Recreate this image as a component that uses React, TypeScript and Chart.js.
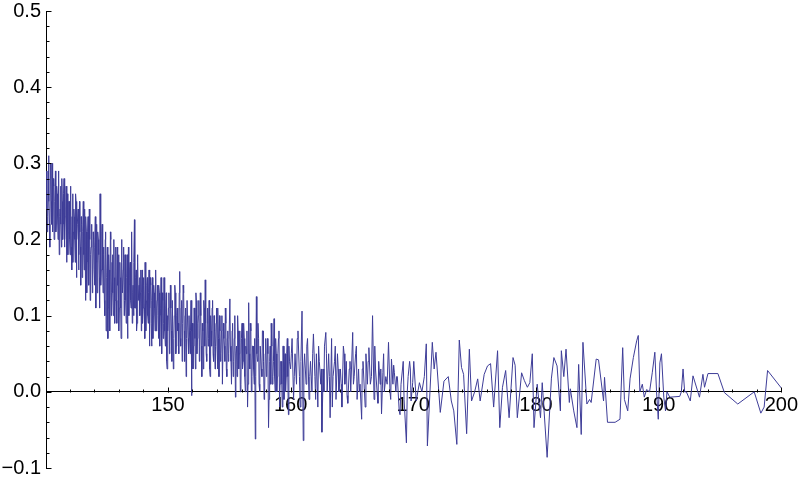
import React, { useEffect, useRef } from "react";
import { Chart, registerables } from "chart.js";
Chart.register(...registerables);

const xMin = 140.06;
const xMax = 200;
const yMin = -0.1;
const yMax = 0.5;

const xMajorTicks = [150, 160, 170, 180, 190, 200];
const xMinorTicks = [142, 144, 146, 148, 152, 154, 156, 158, 162, 164, 166, 168, 172, 174, 176, 178, 182, 184, 186, 188, 192, 194, 196, 198];
const yMajorTicks = [-0.1, 0, 0.1, 0.2, 0.3, 0.4, 0.5];
const yMinorTicks = [-0.08, -0.06, -0.04, -0.02, 0.02, 0.04, 0.06, 0.08, 0.12, 0.14, 0.16, 0.18, 0.22, 0.24, 0.26, 0.28, 0.32, 0.34, 0.36, 0.38, 0.42, 0.44, 0.46, 0.48];

const segAX = [140.06, 140.13, 140.20, 140.27, 140.34, 140.41, 140.48, 140.55, 140.62, 140.69, 140.76, 140.83, 140.90, 140.97, 141.04, 141.11, 141.18, 141.25, 141.32, 141.39, 141.46, 141.53, 141.60, 141.67, 141.74, 141.81, 141.88, 141.95, 142.02, 142.09, 142.16, 142.23, 142.30, 142.37, 142.44, 142.51, 142.58, 142.65, 142.72, 142.79, 142.86, 142.93, 143.00, 143.07, 143.14, 143.21, 143.28, 143.35, 143.42, 143.49, 143.56, 143.63, 143.70, 143.77, 143.84, 143.91, 143.98, 144.05, 144.12, 144.19, 144.26, 144.33, 144.40, 144.47, 144.54, 144.61, 144.68, 144.75, 144.82, 144.89, 144.96];
const segAY = [0.24, 0.29, 0.23, 0.31, 0.22, 0.28, 0.25, 0.30, 0.21, 0.27, 0.24, 0.29, 0.22, 0.26, 0.20, 0.28, 0.23, 0.27, 0.19, 0.25, 0.22, 0.28, 0.20, 0.24, 0.17, 0.26, 0.21, 0.25, 0.18, 0.24, 0.16, 0.26, 0.21, 0.23, 0.17, 0.25, 0.20, 0.22, 0.16, 0.25, 0.19, 0.23, 0.15, 0.21, 0.18, 0.24, 0.12, 0.21, 0.17, 0.23, 0.14, 0.20, 0.18, 0.22, 0.13, 0.21, 0.16, 0.19, 0.11, 0.22, 0.17, 0.20, 0.15, 0.26, 0.14, 0.21, 0.16, 0.19, 0.12, 0.20, 0.08];

const segA2X = [140.09, 140.16, 140.23, 140.30, 140.37, 140.44, 140.51, 140.58, 140.65, 140.72, 140.79, 140.86, 140.93, 141.00, 141.07, 141.14, 141.21, 141.28, 141.35, 141.42, 141.49, 141.56, 141.63, 141.70, 141.77, 141.84, 141.91, 141.98, 142.05, 142.12, 142.19, 142.26, 142.33, 142.40, 142.47, 142.54, 142.61, 142.68, 142.75, 142.82, 142.89, 142.96, 143.03, 143.10, 143.17, 143.24, 143.31, 143.38, 143.45, 143.52, 143.59, 143.66, 143.73, 143.80, 143.87, 143.94, 144.01, 144.08, 144.15, 144.22, 144.29, 144.36, 144.43, 144.50, 144.57, 144.64, 144.71, 144.78, 144.85, 144.92, 144.99];
const segA2Y = [0.27, 0.21, 0.29, 0.25, 0.19, 0.30, 0.22, 0.26, 0.28, 0.20, 0.25, 0.21, 0.27, 0.23, 0.29, 0.18, 0.24, 0.22, 0.28, 0.20, 0.26, 0.19, 0.23, 0.27, 0.21, 0.18, 0.25, 0.20, 0.27, 0.19, 0.23, 0.17, 0.24, 0.20, 0.26, 0.15, 0.22, 0.24, 0.18, 0.21, 0.14, 0.22, 0.19, 0.25, 0.16, 0.20, 0.23, 0.13, 0.21, 0.18, 0.24, 0.12, 0.19, 0.22, 0.16, 0.20, 0.14, 0.23, 0.17, 0.13, 0.21, 0.18, 0.11, 0.20, 0.16, 0.22, 0.13, 0.18, 0.10, 0.21, 0.15];

const segBX = [145.03, 145.10, 145.17, 145.24, 145.31, 145.38, 145.45, 145.52, 145.59, 145.66, 145.73, 145.80, 145.87, 145.94, 146.01, 146.08, 146.15, 146.22, 146.29, 146.36, 146.43, 146.50, 146.57, 146.64, 146.71, 146.78, 146.85, 146.92, 146.99, 147.06, 147.13, 147.20, 147.27, 147.34, 147.41, 147.48, 147.55, 147.62, 147.69, 147.76, 147.83, 147.90, 147.97, 148.04, 148.11, 148.18, 148.25, 148.32, 148.39, 148.46, 148.53, 148.60, 148.67, 148.74, 148.81, 148.88, 148.95, 149.02, 149.09, 149.16, 149.23, 149.30, 149.37, 149.44, 149.51, 149.58, 149.65, 149.72, 149.79, 149.86, 149.93];
const segBY = [0.15, 0.07, 0.18, 0.12, 0.21, 0.10, 0.17, 0.13, 0.20, 0.09, 0.16, 0.12, 0.19, 0.14, 0.08, 0.17, 0.11, 0.20, 0.13, 0.16, 0.10, 0.18, 0.12, 0.15, 0.07, 0.19, 0.14, 0.17, 0.11, 0.21, 0.13, 0.10, 0.226, 0.11, 0.16, 0.09, 0.17, 0.12, 0.15, 0.13, 0.08, 0.16, 0.11, 0.14, 0.07, 0.17, 0.12, 0.15, 0.09, 0.16, 0.11, 0.14, 0.06, 0.15, 0.10, 0.13, 0.08, 0.16, 0.11, 0.14, 0.07, 0.13, 0.10, 0.15, 0.05, 0.12, 0.09, 0.14, 0.06, 0.13, 0.03];

const segB2X = [145.06, 145.13, 145.20, 145.27, 145.34, 145.41, 145.48, 145.55, 145.62, 145.69, 145.76, 145.83, 145.90, 145.97, 146.04, 146.11, 146.18, 146.25, 146.32, 146.39, 146.46, 146.53, 146.60, 146.67, 146.74, 146.81, 146.88, 146.95, 147.02, 147.09, 147.16, 147.23, 147.30, 147.37, 147.44, 147.51, 147.58, 147.65, 147.72, 147.79, 147.86, 147.93, 148.00, 148.07, 148.14, 148.21, 148.28, 148.35, 148.42, 148.49, 148.56, 148.63, 148.70, 148.77, 148.84, 148.91, 148.98, 149.05, 149.12, 149.19, 149.26, 149.33, 149.40, 149.47, 149.54, 149.61, 149.68, 149.75, 149.82, 149.89, 149.96];
const segB2Y = [0.19, 0.11, 0.16, 0.08, 0.20, 0.13, 0.18, 0.10, 0.15, 0.12, 0.19, 0.09, 0.14, 0.18, 0.11, 0.15, 0.07, 0.17, 0.13, 0.19, 0.12, 0.16, 0.09, 0.18, 0.13, 0.10, 0.16, 0.12, 0.18, 0.09, 0.14, 0.17, 0.11, 0.15, 0.08, 0.18, 0.12, 0.14, 0.10, 0.16, 0.13, 0.09, 0.15, 0.11, 0.17, 0.08, 0.14, 0.10, 0.13, 0.06, 0.15, 0.09, 0.12, 0.07, 0.14, 0.11, 0.16, 0.08, 0.12, 0.10, 0.14, 0.06, 0.11, 0.09, 0.13, 0.07, 0.15, 0.08, 0.11, 0.04, 0.10];

const segCX = [150.00, 150.08, 150.16, 150.24, 150.32, 150.40, 150.48, 150.56, 150.64, 150.72, 150.80, 150.88, 150.96, 151.04, 151.12, 151.20, 151.28, 151.36, 151.44, 151.52, 151.60, 151.68, 151.76, 151.84, 151.92, 152.00, 152.08, 152.16, 152.24, 152.32, 152.40, 152.48, 152.56, 152.64, 152.72, 152.80, 152.88, 152.96, 153.04, 153.12, 153.20, 153.28, 153.36, 153.44, 153.52, 153.60, 153.68, 153.76, 153.84, 153.92, 154.00, 154.08, 154.16, 154.24, 154.32, 154.40, 154.48, 154.56, 154.64, 154.72, 154.80, 154.88, 154.96];
const segCY = [0.08, 0.13, 0.06, 0.11, 0.04, 0.12, 0.07, 0.14, 0.05, 0.10, 0.08, 0.05, 0.158, 0.06, 0.12, 0.09, 0.13, 0.04, 0.11, 0.07, 0.12, 0.05, 0.10, 0.08, -0.005, 0.09, 0.06, 0.11, 0.03, 0.12, 0.07, 0.10, 0.04, 0.13, 0.06, 0.09, 0.03, 0.11, 0.147, 0.05, 0.09, 0.06, 0.12, 0.02, 0.08, 0.11, 0.05, 0.10, 0.03, 0.09, 0.06, 0.11, 0.02, 0.08, 0.05, 0.10, 0.01, 0.07, 0.04, 0.09, 0.02, 0.08, 0.05];

const segC2X = [150.04, 150.12, 150.20, 150.28, 150.36, 150.44, 150.52, 150.60, 150.68, 150.76, 150.84, 150.92, 151.00, 151.08, 151.16, 151.24, 151.32, 151.40, 151.48, 151.56, 151.64, 151.72, 151.80, 151.88, 151.96, 152.04, 152.12, 152.20, 152.28, 152.36, 152.44, 152.52, 152.60, 152.68, 152.76, 152.84, 152.92, 153.00, 153.08, 153.16, 153.24, 153.32, 153.40, 153.48, 153.56, 153.64, 153.72, 153.80, 153.88, 153.96, 154.04, 154.12, 154.20, 154.28, 154.36, 154.44, 154.52, 154.60, 154.68, 154.76, 154.84, 154.92];
const segC2Y = [0.11, 0.05, 0.14, 0.08, 0.12, 0.03, 0.10, 0.13, 0.06, 0.11, 0.09, 0.13, 0.07, 0.11, 0.04, 0.14, 0.08, 0.10, 0.02, 0.12, 0.07, 0.10, 0.05, 0.12, 0.08, 0.03, 0.11, 0.07, 0.13, 0.05, 0.09, 0.12, 0.06, 0.10, 0.02, 0.08, 0.12, 0.06, 0.09, 0.04, 0.11, 0.07, 0.03, 0.10, 0.06, 0.12, 0.04, 0.08, 0.06, 0.11, 0.03, 0.07, 0.10, 0.04, 0.08, 0.01, 0.09, 0.06, 0.11, 0.03, 0.07, 0.04];

const segDX = [155.05, 155.14, 155.23, 155.32, 155.41, 155.50, 155.59, 155.68, 155.77, 155.86, 155.95, 156.04, 156.13, 156.22, 156.31, 156.40, 156.49, 156.58, 156.67, 156.76, 156.85, 156.94, 157.03, 157.12, 157.21, 157.30, 157.39, 157.48, 157.57, 157.66, 157.75, 157.84, 157.93, 158.02, 158.11, 158.20, 158.29, 158.38, 158.47, 158.56, 158.65, 158.74, 158.83, 158.92, 159.01, 159.10, 159.19, 159.28, 159.37, 159.46, 159.55, 159.64, 159.73, 159.82, 159.91];
const segDY = [0.122, 0.04, 0.08, 0.02, 0.07, -0.007, 0.06, 0.10, 0.03, 0.08, 0.01, 0.09, 0.04, 0.07, 0.00, 0.05, -0.02, 0.117, 0.03, 0.08, 0.02, 0.06, 0.01, -0.062, 0.125, 0.04, 0.07, 0.00, 0.06, 0.02, 0.08, -0.01, 0.05, 0.02, 0.07, -0.047, 0.04, 0.01, 0.06, 0.02, 0.096, 0.00, 0.05, 0.02, 0.07, -0.02, 0.04, 0.01, 0.06, -0.01, 0.05, 0.02, 0.07, -0.03, 0.04];

const segD2X = [155.09, 155.18, 155.27, 155.36, 155.45, 155.54, 155.63, 155.72, 155.81, 155.90, 155.99, 156.08, 156.17, 156.26, 156.35, 156.44, 156.53, 156.62, 156.71, 156.80, 156.89, 156.98, 157.07, 157.16, 157.25, 157.34, 157.43, 157.52, 157.61, 157.70, 157.79, 157.88, 157.97, 158.06, 158.15, 158.24, 158.33, 158.42, 158.51, 158.60, 158.69, 158.78, 158.87, 158.96, 159.05, 159.14, 159.23, 159.32, 159.41, 159.50, 159.59, 159.68, 159.77, 159.86];
const segD2Y = [0.06, 0.01, 0.09, 0.04, 0.10, 0.05, 0.02, 0.08, 0.05, 0.00, 0.07, 0.03, 0.09, 0.02, 0.06, 0.08, 0.01, 0.05, 0.09, 0.00, 0.06, 0.03, 0.07, 0.02, 0.05, 0.09, 0.01, 0.06, 0.03, 0.08, 0.04, 0.00, 0.07, 0.03, 0.05, -0.01, 0.06, 0.09, 0.01, 0.04, 0.02, 0.07, 0.00, 0.05, 0.08, 0.01, 0.04, -0.02, 0.06, 0.03, 0.00, 0.05, 0.02, 0.06];

const segEX = [160.00, 160.12, 160.24, 160.36, 160.48, 160.60, 160.72, 160.84, 160.93, 161.03, 161.14, 161.26, 161.38, 161.50, 161.62, 161.74, 161.86, 161.98, 162.10, 162.22, 162.34, 162.46, 162.55, 162.66, 162.76, 162.87, 162.98, 163.10, 163.22, 163.34, 163.46, 163.58, 163.70, 163.82, 163.94, 164.06, 164.18, 164.30, 164.42, 164.54, 164.66, 164.78, 164.90, 165.06, 165.18, 165.30, 165.42, 165.54, 165.66, 165.79, 165.90, 166.02, 166.14, 166.26, 166.38, 166.50, 166.68, 166.80, 166.92, 167.05, 167.18, 167.30, 167.41, 167.52, 167.64, 167.76, 167.98, 168.10, 168.22, 168.34, 168.46, 168.58, 168.70, 168.85, 169.00, 169.12, 169.25, 169.44, 169.58, 169.70, 169.82, 169.95];
const segEY = [0.03, 0.07, -0.01, 0.05, 0.01, 0.08, 0.02, 0.04, 0.106, -0.064, 0.05, 0.01, 0.07, -0.01, 0.04, 0.00, 0.076, 0.02, 0.05, -0.02, 0.04, 0.01, -0.053, 0.03, 0.06, 0.078, 0.00, 0.05, -0.034, 0.07, 0.02, 0.04, -0.01, 0.05, 0.00, 0.03, -0.02, 0.06, 0.01, 0.04, -0.015, 0.03, 0.00, 0.078, 0.02, 0.05, -0.01, 0.03, 0.01, -0.036, 0.04, 0.00, 0.05, 0.01, 0.058, 0.01, 0.10, -0.01, 0.03, 0.00, 0.04, 0.01, -0.029, 0.025, 0.00, 0.02, 0.065, 0.00, 0.043, 0.01, 0.025, 0.00, 0.02, -0.025, 0.01, 0.03, -0.01, -0.067, 0.02, 0.04, -0.012, 0.012];

const segE2X = [160.06, 160.30, 160.54, 160.78, 161.08, 161.32, 161.56, 161.80, 162.04, 162.28, 162.50, 162.71, 162.92, 163.16, 163.40, 163.64, 163.88, 164.12, 164.36, 164.60, 164.84, 165.12, 165.36, 165.60, 165.84, 166.08, 166.32, 166.59, 166.86, 167.12, 167.35, 167.58, 167.87, 168.16, 168.40, 168.64, 168.92, 169.18, 169.51, 169.76];
const segE2Y = [0.05, 0.02, 0.07, -0.02, 0.03, 0.06, 0.02, 0.05, -0.01, 0.06, 0.03, 0.00, 0.05, 0.02, -0.02, 0.06, 0.03, 0.01, 0.05, -0.005, 0.04, 0.01, 0.06, 0.00, 0.03, -0.02, 0.04, 0.02, 0.06, -0.015, 0.03, 0.05, 0.01, -0.01, 0.035, 0.02, -0.03, 0.04, 0.00, 0.03];

const segFX = [170.04, 170.24, 170.50, 170.70, 170.90, 171.06, 171.15, 171.55, 171.70, 171.85, 172.20, 172.50, 172.85, 173.10, 173.30, 173.55, 173.75, 173.93, 174.10, 174.35, 174.57, 174.75, 175.00, 175.25, 175.45, 175.78, 176.05, 176.30, 176.55, 176.87, 177.05, 177.27, 177.53, 177.81, 178.13, 178.30, 178.48, 178.83, 179.05, 179.30, 179.50, 179.70, 179.84, 180.10, 180.37, 180.51, 180.91, 181.26, 181.46, 181.72, 181.99, 182.07, 182.27, 182.45, 182.72, 182.80, 183.08, 183.34, 183.48, 183.69, 183.83, 184.15, 184.37, 184.50, 184.91];
const segFY = [0.04, -0.012, 0.012, 0.00, 0.02, 0.063, -0.071, 0.065, 0.03, 0.052, -0.027, 0.014, 0.02, -0.012, -0.025, -0.069, 0.068, 0.032, 0.023, -0.055, 0.056, -0.012, 0.00, 0.017, -0.012, 0.023, 0.034, 0.037, -0.02, 0.054, -0.047, 0.006, 0.028, -0.034, 0.045, 0.035, -0.034, 0.025, 0.015, 0.006, 0.012, 0.05, -0.047, 0.01, -0.034, 0.012, -0.086, 0.018, 0.045, 0.034, -0.025, 0.054, 0.02, 0.056, -0.014, 0.004, -0.025, -0.047, 0.036, -0.056, 0.065, -0.016, -0.01, -0.014, 0.043];

const segGX = [185.10, 185.51, 185.59, 185.83, 186.45, 186.85, 187.07, 187.21, 187.48, 187.67, 187.94, 188.21, 188.34, 188.47, 188.67, 188.83, 189.02, 189.26, 189.48, 189.69, 189.83, 189.97, 190.10, 190.23, 190.42, 190.56, 190.68, 190.91, 191.72, 191.85, 191.99, 192.12, 192.26, 192.58, 192.80, 193.33, 193.61, 193.74, 194.02, 194.83, 195.36, 196.45, 197.79, 198.33, 198.60, 198.88, 200.00];
const segGY = [0.042, -0.012, 0.019, -0.04, -0.04, -0.036, 0.058, -0.01, -0.025, 0.017, 0.045, 0.067, 0.074, 0.00, 0.01, -0.007, 0.003, 0.00, 0.025, 0.052, 0.00, -0.036, 0.038, 0.05, -0.007, -0.025, 0.00, -0.007, -0.006, 0.00, 0.03, 0.00, 0.00, -0.012, 0.021, -0.007, 0.023, 0.006, 0.024, 0.024, -0.001, -0.016, 0.00, -0.028, -0.02, 0.028, 0.005];

const segmentsX = [segAX, segA2X, segBX, segB2X, segCX, segC2X, segDX, segD2X, segEX, segE2X, segFX, segGX];
const segmentsY = [segAY, segA2Y, segBY, segB2Y, segCY, segC2Y, segDY, segD2Y, segEY, segE2Y, segFY, segGY];

const lineColor = "rgb(62,61,152)";
const axisColor = "#000000";
const fontFamily = "'Liberation Sans', Arial, sans-serif";

const fmtY = (v: number) => {
  const s = Math.abs(v).toFixed(1);
  return v < -1e-9 ? "\u2212" + s : s;
};

const inwardTicks = {
  id: "inwardTicks",
  afterDatasetsDraw(chart: any) {
    const { ctx, chartArea, scales } = chart;
    const xs = scales.x;
    const ys = scales.y;
    const y0 = Math.round(ys.getPixelForValue(0)) + 0.5;
    const left = Math.round(chartArea.left) + 0.5;
    ctx.save();
    ctx.strokeStyle = axisColor;
    ctx.lineWidth = 1;
    ctx.beginPath();
    xMajorTicks.forEach((v) => {
      const p = Math.round(xs.getPixelForValue(v)) + 0.5;
      ctx.moveTo(p, y0);
      ctx.lineTo(p, y0 - 5);
    });
    xMinorTicks.forEach((v) => {
      const p = Math.round(xs.getPixelForValue(v)) + 0.5;
      ctx.moveTo(p, y0);
      ctx.lineTo(p, y0 - 3);
    });
    yMajorTicks.forEach((v) => {
      const p = Math.round(ys.getPixelForValue(v)) + 0.5;
      ctx.moveTo(left, p);
      ctx.lineTo(left + 5, p);
    });
    yMinorTicks.forEach((v) => {
      const p = Math.round(ys.getPixelForValue(v)) + 0.5;
      ctx.moveTo(left, p);
      ctx.lineTo(left + 3, p);
    });
    ctx.stroke();
    ctx.restore();
  },
};

export default function App() {
  const ref = useRef<HTMLCanvasElement>(null);
  useEffect(() => {
    const points: { x: number; y: number }[] = [];
    segmentsX.forEach((xsArr, i) => {
      xsArr.forEach((x, j) => points.push({ x, y: segmentsY[i][j] }));
    });
    points.sort((a, b) => a.x - b.x);
    const chart = new Chart(ref.current as HTMLCanvasElement, {
      type: "line",
      data: {
        datasets: [
          {
            data: points,
            borderColor: lineColor,
            borderWidth: 1,
            pointRadius: 0,
            fill: false,
            tension: 0,
          },
        ],
      },
      options: {
        responsive: false,
        animation: false,
        devicePixelRatio: 1,
        layout: { padding: { top: 0, bottom: 12, left: 0, right: 0 } },
        plugins: { legend: { display: false }, tooltip: { enabled: false } },
        scales: {
          x: {
            type: "linear",
            min: xMin,
            max: xMax,
            position: { y: 0 },
            grid: { display: false, drawTicks: false },
            border: { display: true, color: axisColor, width: 1 },
            ticks: {
              color: "#000",
              padding: 2,
              maxRotation: 0,
              font: { family: fontFamily, size: 20 },
              callback: (v: any) => String(v),
            },
            afterBuildTicks: (s: any) => {
              s.ticks = xMajorTicks.map((v) => ({ value: v }));
            },
          },
          y: {
            type: "linear",
            min: yMin,
            max: yMax,
            grid: { display: false, drawTicks: false },
            border: { display: true, color: axisColor, width: 1 },
            ticks: {
              color: "#000",
              padding: 5,
              font: { family: fontFamily, size: 20, lineHeight: 0.6 },
              callback: (v: any) => fmtY(Number(v)),
            },
            afterBuildTicks: (s: any) => {
              s.ticks = yMajorTicks.map((v) => ({ value: v }));
            },
            afterFit: (s: any) => {
              s.width = 46;
            },
          },
        },
      },
      plugins: [inwardTicks],
    });
    return () => chart.destroy();
  }, []);
  return (
    <div style={{ position: "fixed", left: 0, top: 0, width: 800, height: 480, background: "#ffffff" }}>
      <canvas ref={ref} width={800} height={480} style={{ display: "block" }} />
    </div>
  );
}
